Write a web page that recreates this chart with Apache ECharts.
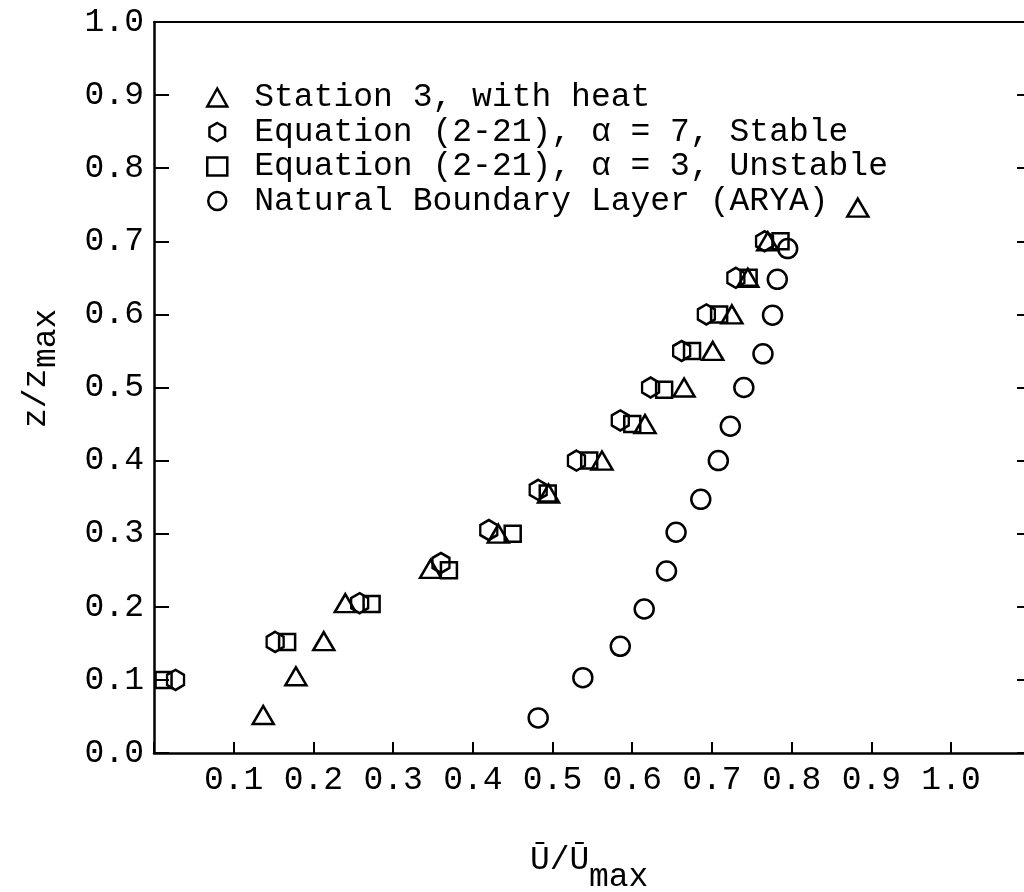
<!DOCTYPE html>
<html><head><meta charset="utf-8">
<script src="https://cdn.jsdelivr.net/npm/echarts@6/dist/echarts.min.js"></script>
<style>html,body{margin:0;padding:0;background:#fff;overflow:hidden}#c{width:1024px;height:892px}</style>
</head><body><div id="c"></div>
<script>
const seriesNames = [
  'Station 3, with heat',
  'Equation (2-21), \u03b1 = 7, Stable',
  'Equation (2-21), \u03b1 = 3, Unstable',
  'Natural Boundary Layer (ARYA)'
];
const stationX = [0.137,0.178,0.213,0.240,0.347,0.432,0.495,0.562,0.616,0.665,0.701,0.725,0.745,0.770,0.883];
const stationY = [0.052,0.105,0.153,0.205,0.252,0.300,0.355,0.400,0.450,0.500,0.550,0.600,0.650,0.700,0.746];
const stableX = [0.027,0.152,0.258,0.360,0.420,0.482,0.530,0.585,0.623,0.662,0.693,0.730,0.766];
const stableY = [0.100,0.152,0.205,0.260,0.305,0.360,0.400,0.455,0.500,0.550,0.600,0.650,0.700];
const unstableX = [0.012,0.167,0.273,0.370,0.450,0.494,0.546,0.600,0.640,0.675,0.709,0.746,0.786];
const unstableY = [0.100,0.152,0.204,0.250,0.300,0.355,0.400,0.450,0.497,0.550,0.600,0.650,0.700];
const aryaX = [0.482,0.538,0.585,0.615,0.643,0.655,0.686,0.708,0.723,0.740,0.764,0.776,0.782,0.795];
const aryaY = [0.048,0.103,0.146,0.197,0.249,0.302,0.347,0.400,0.447,0.500,0.546,0.599,0.648,0.690];
const xTitle = ['\u016a/\u016a', 'max'];
const yTitle = ['z/z', 'max'];

const FONT = 'Liberation Mono';
const pair = (xs, ys) => xs.map((x, i) => [x, ys[i]]);
const hexPath = 'path://M0,-1L0.866,-0.5L0.866,0.5L0,1L-0.866,0.5L-0.866,-0.5Z';
const mk = (name, data, symbol, size) => ({
  name, type: 'scatter', data, symbol, symbolSize: size,
  itemStyle: {color: 'rgba(0,0,0,0)', borderColor: '#000', borderWidth: 2.5, opacity: 1},
  emphasis: {disabled: true}, z: 3
});
const font = '33px "' + FONT + '"';

const chart = echarts.init(document.getElementById('c'), null, {renderer: 'canvas'});
chart.setOption({
  animation: false,
  backgroundColor: '#fff',
  grid: {left: 154, top: 22, width: 872, height: 731, outerBoundsMode: 'none', containLabel: false},
  legend: {
    orient: 'vertical', left: 201, top: 76, itemWidth: 20, itemHeight: 18, itemGap: 1.5,
    selectedMode: false,
    textStyle: {fontFamily: FONT, fontSize: 33, lineHeight: 33, color: '#000', padding: [0, 0, 0, 22]},
    itemStyle: {color: 'rgba(0,0,0,0)', borderColor: '#000', borderWidth: 2.5, opacity: 1},
    data: seriesNames
  },
  xAxis: [{
    type: 'value', min: 0, max: 1.094, interval: 0.1,
    axisLine: {show: true, onZero: false, lineStyle: {color: '#000', width: 2.5}},
    axisTick: {show: true, inside: true, length: 11, lineStyle: {color: '#000', width: 2}},
    splitLine: {show: false},
    axisLabel: {margin: 11, fontFamily: FONT, fontSize: 33, lineHeight: 33, color: '#000',
      formatter: v => (v > 0.05 && v < 1.05) ? v.toFixed(1) : ''}
  }, {
    type: 'value', position: 'top', min: 0, max: 1.094, interval: 0.1,
    axisLine: {show: true, onZero: false, lineStyle: {color: '#000', width: 2}},
    axisTick: {show: false}, axisLabel: {show: false}, splitLine: {show: false}
  }],
  yAxis: [{
    type: 'value', min: 0, max: 1, interval: 0.1,
    axisLine: {show: true, onZero: false, lineStyle: {color: '#000', width: 2.5}},
    axisTick: {show: true, inside: true, length: 15, lineStyle: {color: '#000', width: 2}},
    splitLine: {show: false},
    axisLabel: {margin: 10, fontFamily: FONT, fontSize: 33, color: '#000',
      formatter: v => v.toFixed(1)}
  }, {
    type: 'value', position: 'right', min: 0, max: 1, interval: 0.1,
    axisLine: {show: false, onZero: false},
    axisTick: {show: true, inside: true, length: 9, lineStyle: {color: '#000', width: 2}},
    axisLabel: {show: false}, splitLine: {show: false}
  }],
  graphic: [
    {type: 'text', x: 530, y: 860, style: {text: xTitle[0], font: font, fill: '#000', textAlign: 'left', textVerticalAlign: 'middle'}},
    {type: 'text', x: 589, y: 877, style: {text: xTitle[1], font: font, fill: '#000', textAlign: 'left', textVerticalAlign: 'middle'}},
    {type: 'text', x: 36, y: 428, rotation: Math.PI / 2, style: {text: yTitle[0], font: font, fill: '#000', textAlign: 'left', textVerticalAlign: 'middle'}},
    {type: 'text', x: 46, y: 368, rotation: Math.PI / 2, style: {text: yTitle[1], font: font, fill: '#000', textAlign: 'left', textVerticalAlign: 'middle'}}
  ],
  series: [
    mk(seriesNames[0], pair(stationX, stationY), 'triangle', [21, 18]),
    mk(seriesNames[1], pair(stableX, stableY), hexPath, [17, 20]),
    mk(seriesNames[2], pair(unstableX, unstableY), 'rect', 16),
    mk(seriesNames[3], pair(aryaX, aryaY), 'circle', 19)
  ]
});
</script></body></html>
